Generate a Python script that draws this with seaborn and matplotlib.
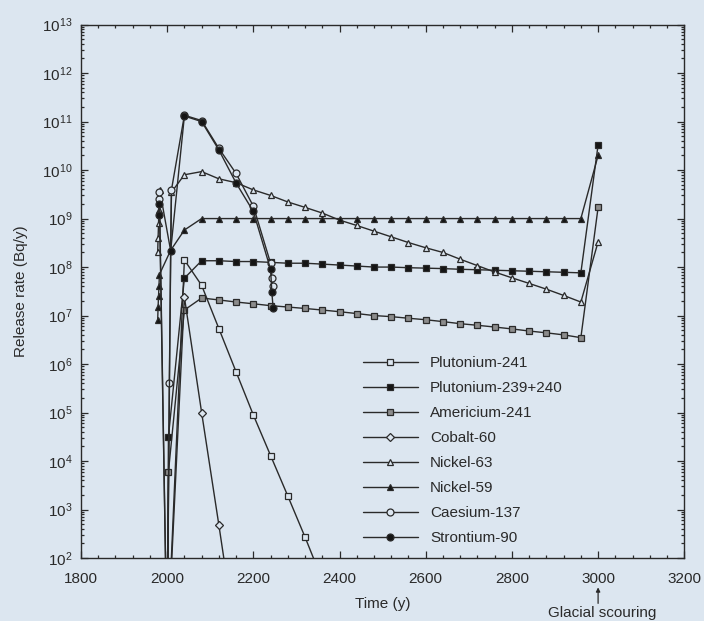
import numpy as np
import pandas as pd
import matplotlib
matplotlib.use("Agg")
import matplotlib.pyplot as plt
import matplotlib.ticker as mticker
import seaborn as sns

# release rates (Bq/y)
yrs = [2040, 2080, 2120, 2160, 2200, 2240, 2280, 2320, 2360, 2400, 2440, 2480,
       2520, 2560, 2600, 2640, 2680, 2720, 2760, 2800, 2840, 2880, 2920, 2960, 3000]

pu241_t = [2000, 2040, 2080, 2120, 2160, 2200, 2240, 2280, 2320, 2360]
pu241_v = [1e0, 1.4e8, 4.2e7, 5.4e6, 6.9e5, 8.9e4, 1.3e4, 1.9e3, 2.7e2, 3.5e1]

pu239_t = [2000, 2003] + yrs
pu239_v = [1e0, 3.2e4, 5.9e7, 1.35e8, 1.35e8, 1.3e8, 1.3e8, 1.25e8, 1.2e8, 1.2e8,
           1.15e8, 1.1e8, 1.05e8, 1.0e8, 1.0e8, 9.7e7, 9.5e7, 9.3e7, 9.0e7, 8.8e7,
           8.6e7, 8.4e7, 8.2e7, 8.0e7, 7.8e7, 7.6e7, 3.3e10]

am241_t = [2000, 2003] + yrs
am241_v = [1e0, 6e3, 1.3e7, 2.3e7, 2.1e7, 1.9e7, 1.75e7, 1.6e7, 1.5e7, 1.4e7,
           1.3e7, 1.2e7, 1.1e7, 1.0e7, 9.5e6, 8.8e6, 8.2e6, 7.5e6, 6.8e6, 6.3e6,
           5.8e6, 5.3e6, 4.8e6, 4.4e6, 4.0e6, 3.5e6, 1.7e9]

co60_t = [2000, 2040, 2080, 2120, 2160]
co60_v = [1e0, 2.4e7, 1.0e5, 4.8e2, 2.0e0]

ni63_t = [1978, 1979, 1980, 1981, 1982, 1983, 2008, 2010] + yrs
ni63_v = [2e8, 4e8, 8e8, 1.5e9, 2.5e9, 3.8e9, 2.2e8, 3.5e9,
          8.0e9, 9.3e9, 6.6e9, 5.5e9, 3.9e9, 3.0e9, 2.2e9, 1.7e9, 1.3e9, 9.3e8,
          7.2e8, 5.5e8, 4.2e8, 3.2e8, 2.5e8, 2.0e8, 1.45e8, 1.07e8, 7.9e7, 6.0e7,
          4.6e7, 3.5e7, 2.6e7, 1.9e7, 3.3e8]

ni59_t = [1978, 1979, 1980, 1981, 1982, 2008] + yrs
ni59_v = [8e6, 1.5e7, 2.5e7, 4e7, 7e7, 2.2e8,
          5.8e8, 1.0e9, 1.0e9, 1.0e9, 1.0e9, 1.0e9, 1.0e9, 1.0e9, 1.0e9, 1.0e9,
          1.0e9, 1.0e9, 1.0e9, 1.0e9, 1.0e9, 1.0e9, 1.0e9, 1.0e9, 1.0e9, 1.0e9,
          1.0e9, 1.0e9, 1.0e9, 1.0e9, 2.0e10]

cs137_t = [1980, 1982, 2000, 2005, 2010, 2040, 2080, 2120, 2160, 2200, 2240, 2243, 2246]
cs137_v = [2.5e9, 3.5e9, 1e0, 4e5, 3.9e9, 1.35e11, 1.05e11, 2.8e10, 8.5e9, 1.8e9,
           1.2e8, 6e7, 4e7]

sr90_t = [1980, 1982, 2000, 2008, 2040, 2080, 2120, 2160, 2200, 2240, 2243, 2246]
sr90_v = [1.2e9, 2e9, 1e0, 2.1e8, 1.3e11, 1.0e11, 2.6e10, 5.4e9, 1.4e9,
          9e7, 3e7, 1.4e7]

bg = '#dce6f0'
ink = '#2a2a2a'

sns.set_style("ticks")
plt.rcParams['font.family'] = ['Liberation Sans', 'DejaVu Sans']
plt.rcParams['mathtext.fontset'] = 'custom'
plt.rcParams['mathtext.rm'] = 'Liberation Sans'
plt.rcParams['mathtext.it'] = 'Liberation Sans:italic'

fig = plt.figure(figsize=(7.04, 6.21), dpi=100, facecolor=bg)
ax = fig.add_axes([0.115, 0.1014, 0.857, 0.859])
ax.set_facecolor(bg)

series = [
    ('Plutonium-241', pu241_t, pu241_v, 's', bg),
    ('Plutonium-239+240', pu239_t, pu239_v, 's', '#151515'),
    ('Americium-241', am241_t, am241_v, 's', '#8c8c8c'),
    ('Cobalt-60', co60_t, co60_v, 'D', bg),
    ('Nickel-63', ni63_t, ni63_v, '^', bg),
    ('Nickel-59', ni59_t, ni59_v, '^', '#151515'),
    ('Caesium-137', cs137_t, cs137_v, 'o', bg),
    ('Strontium-90', sr90_t, sr90_v, 'o', '#151515'),
]

for name, t, v, mk, fc in series:
    df = pd.DataFrame({'time': t, 'rate': v})
    ms = 4.2 if mk == 'D' else 5
    sns.lineplot(data=df, x='time', y='rate', ax=ax, estimator=None, sort=False,
                 color=ink, lw=1.0, marker=mk, markersize=ms,
                 markerfacecolor=fc, markeredgecolor=ink, markeredgewidth=0.9,
                 label=name)

ax.set_yscale('log')
ax.set_ylim(1e2, 1e13)
ax.set_xlim(1800, 3200)
ax.xaxis.set_major_locator(mticker.MultipleLocator(200))
ax.xaxis.set_minor_locator(mticker.MultipleLocator(40))
ax.yaxis.set_major_locator(mticker.LogLocator(base=10, numticks=20))
ax.yaxis.set_minor_locator(mticker.LogLocator(base=10, subs=np.arange(2, 10), numticks=20))
ax.yaxis.set_minor_formatter(mticker.NullFormatter())
ax.tick_params(which='both', direction='in', top=True, right=True, colors=ink,
               labelsize=11, width=0.9)
ax.tick_params(which='major', length=5)
ax.tick_params(which='minor', length=2.5)
ax.tick_params(axis='y', which='major', pad=6)
ax.tick_params(axis='x', which='major', pad=10)
for s in ax.spines.values():
    s.set_color(ink)
    s.set_linewidth(1.0)

ax.set_xlabel('Time (y)', fontsize=11, color=ink, labelpad=8)
ax.set_ylabel('Release rate (Bq/y)', fontsize=11, color=ink, labelpad=10)

ax.text(3010, -0.09, 'Glacial scouring', transform=ax.get_xaxis_transform(),
        ha='center', va='top', fontsize=11, color=ink)
ax.annotate('', xy=(3000, -0.055), xycoords=('data', 'axes fraction'),
            xytext=(3000, -0.085), textcoords=('data', 'axes fraction'),
            arrowprops=dict(arrowstyle='-|>', color=ink, lw=0.9, mutation_scale=6,
                            shrinkA=0, shrinkB=0))

leg = ax.legend(loc='upper left', bbox_to_anchor=(0.467, 0.379), frameon=False,
                fontsize=11, handlelength=3.6, handletextpad=0.8, labelspacing=0.72,
                borderaxespad=0, borderpad=0)
for txt in leg.get_texts():
    txt.set_color(ink)

fig.savefig('out.png', dpi=100, facecolor=bg)
